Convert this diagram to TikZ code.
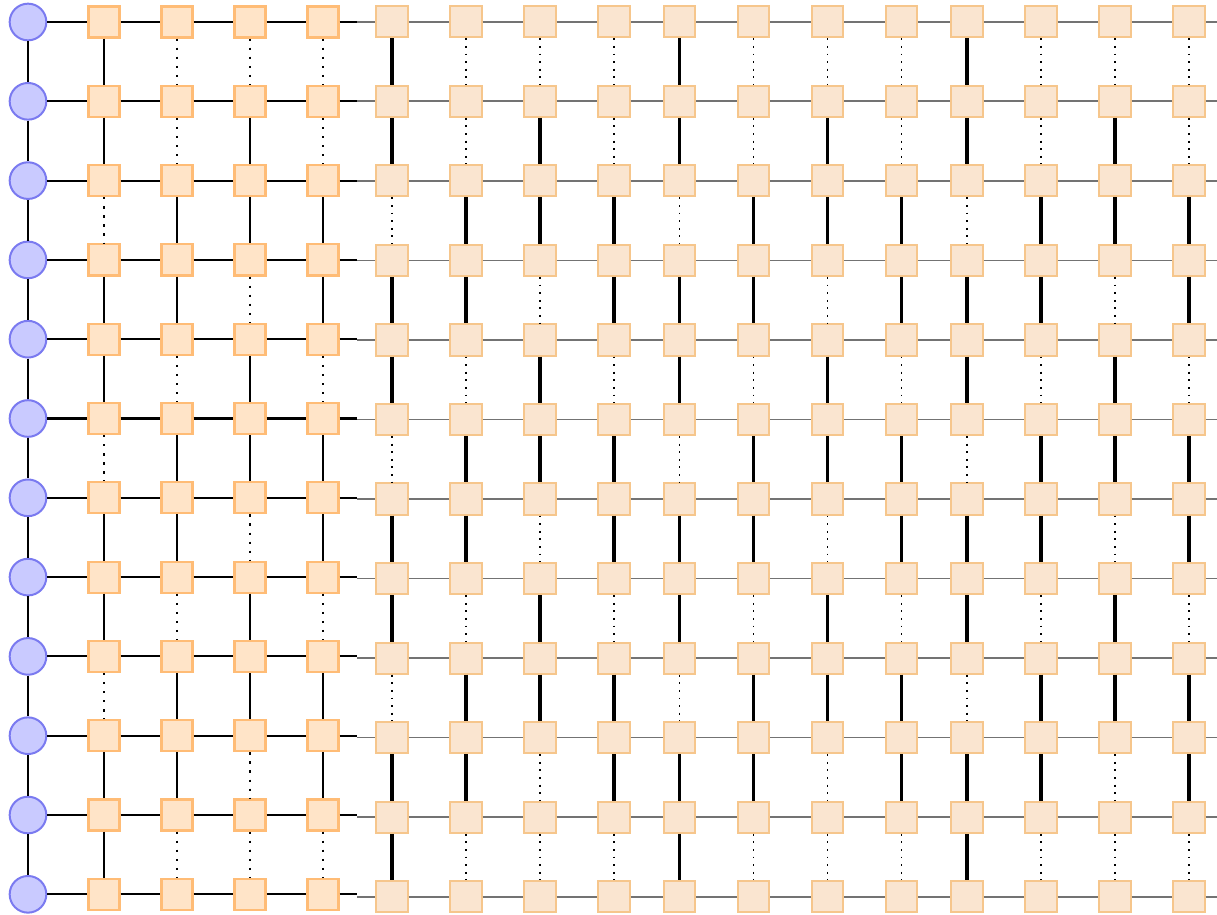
\documentclass[tikz,border=0pt]{standalone}
\usepackage{tikz}
\definecolor{sitefill}{RGB}{201,202,255}
\definecolor{siteline}{RGB}{122,122,240}
\definecolor{cellfill}{RGB}{255,228,200}
\definecolor{cellline}{RGB}{255,188,118}
\definecolor{cellfillR}{RGB}{250,229,208}
\definecolor{celllineR}{RGB}{246,198,140}

% vertical bond pattern of one block of four columns (S solid, D dotted), gaps 1..11
\newcommand{\bondsA}{S,S,D,S,S,D,S,S,D,S,S}
\newcommand{\bondsB}{D,D,S,S,D,S,S,D,S,S,D}
\newcommand{\bondsC}{D,S,S,D,S,S,D,S,S,D,D}
\newcommand{\bondsD}{D,D,S,S,D,S,S,D,S,S,D}

\begin{document}
\begin{tikzpicture}[
  x=0.75pt, y=-0.75pt,
  qsite/.style={circle, draw=siteline, fill=sitefill, line width=1.5pt,
    minimum size=27.5pt, inner sep=0pt},
  cellL/.style={rectangle, draw=cellline, fill=cellfill, line width=1.6pt,
    minimum size=23.3pt, inner sep=0pt},
  cellR/.style={rectangle, draw=celllineR, fill=cellfillR, line width=1.5pt,
    minimum size=23.4pt, inner sep=0pt},
  chain/.style={line width=1.5pt, draw=black},
  hbond/.style={line width=1.6pt, draw=black},
  hbondR/.style={line width=1.2pt, draw=black!55},
  bondS-L/.style={line width=2.1pt, draw=black},
  bondD-L/.style={line width=1.7pt, draw=black, dash pattern=on 1.7pt off 5.1pt},
  bondS-R/.style={line width=2.3pt, draw=black},
  bondD-R/.style={line width=1.4pt, draw=black, dash pattern=on 1.4pt off 4.3pt}
]
  \useasboundingbox (0,0) rectangle (1217,914);

  % sites and cells, left block a little tighter than the right one
  \foreach \i in {1,...,12} {
    \pgfmathsetmacro\yl{22+79.3*(\i-1)}
    \pgfmathsetmacro\yr{21.7+79.55*(\i-1)}
    \node[qsite] (c-\i) at (28,\yl) {};
    \foreach \j in {1,...,4}
      \node[cellL] (n-\i-\j) at ({104+73*(\j-1)},\yl) {};
    \foreach \j in {5,...,16} {
      \pgfmathsetmacro\xr{392+287.5*int((\j-5)/4)+74*mod(\j-5,4)}
      \node[cellR] (n-\i-\j) at (\xr,\yr) {};
    }
    \coordinate (cutL-\i) at (357,\yl);
    \coordinate (cutR-\i) at (357,\yr);
    \coordinate (end-\i)  at (1217,\yr);
  }

  % horizontal rows
  \foreach \i in {1,...,12} {
    \draw[hbond] (c-\i) -- (n-\i-1) -- (n-\i-2) -- (n-\i-3) -- (n-\i-4) -- (cutL-\i);
    \draw[hbondR] (cutR-\i) -- (n-\i-5);
    \foreach \j [count=\jj from 6] in {5,...,15}
      \draw[hbondR] (n-\i-\j) -- (n-\i-\jj);
    \draw[hbondR] (n-\i-16) -- (end-\i);
  }

  % chain of sites
  \foreach \i [count=\ii from 2] in {1,...,11}
    \draw[chain] (c-\i) -- (c-\ii);

  % vertical bonds, same pattern in every block of four columns
  \foreach \t/\pat in {1/\bondsA,2/\bondsB,3/\bondsC,4/\bondsD} {
    \edef\curpat{\pat}
    \foreach \s [count=\g] in \curpat {
      \pgfmathtruncatemacro\gg{\g+1}
      \draw[bond\s-L] (n-\g-\t) -- (n-\gg-\t);
      \foreach \k in {1,2,3} {
        \pgfmathtruncatemacro\jj{\t+4*\k}
        \draw[bond\s-R] (n-\g-\jj) -- (n-\gg-\jj);
      }
    }
  }

\end{tikzpicture}
\end{document}
